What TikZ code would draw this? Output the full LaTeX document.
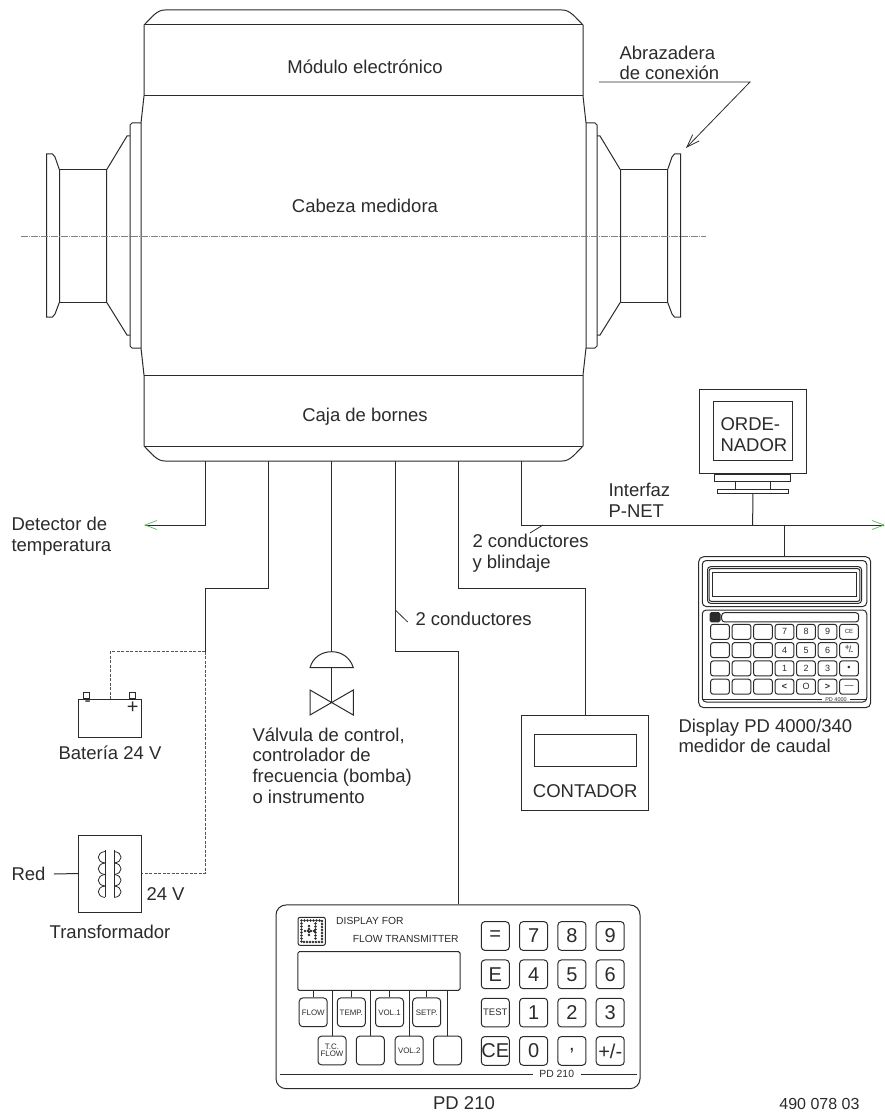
\documentclass[tikz,border=0pt]{standalone}
\usepackage{fontspec}
\setmainfont{Liberation Sans}
\usetikzlibrary{positioning,arrows.meta}
\definecolor{ink}{HTML}{2B2B2B}
\definecolor{barb}{HTML}{5CB85C}
\tikzstyle{lbl}=[inner sep=0pt,text=ink,align=left,font=\fontsize{18.5}{20.7}\selectfont]
\tikzstyle{wire}=[ink,line width=1pt]
\tikzstyle{aux}=[ink!80,line width=.8pt,dash pattern=on 3pt off 1.5pt]
\tikzstyle{endbarb}=[-{Straight Barb[color=barb,length=12pt,width=9pt,line width=.7pt]}]
\tikzstyle{box}=[draw=ink,line width=1pt,inner sep=0pt]
\tikzstyle{pkey}=[box,rounded corners=3.5pt,minimum width=28pt,minimum height=28.7pt,text=ink,font=\fontsize{20}{20}\selectfont]
\tikzstyle{fkey}=[pkey,font=\fontsize{7.9}{8}\selectfont,align=center]
\tikzstyle{ckey}=[box,rounded corners=2.5pt,minimum width=18.7pt,minimum height=15pt,text=ink,font=\fontsize{9}{9}\selectfont]
\tikzstyle{logodots}=[ink,line width=2.6pt,line cap=round,dash pattern=on 0pt off 3pt]

\begin{document}
\begin{tikzpicture}[x=1pt,y=-1pt,>=stealth,ink,line width=1pt]
  \useasboundingbox (0,0) rectangle (885,1115);

  % flowmeter body
  \draw (144,25) -- (144,96) -- (141,123) -- (141,348) -- (144,375) -- (144,446)
    .. controls (153,455) and (157,461) .. (165,461) -- (562,461)
    .. controls (570,461) and (574,455) .. (583,446)
    -- (583,375) -- (586,348) -- (586,123) -- (583,96) -- (583,25)
    .. controls (574,16) and (570,10) .. (562,10) -- (165,10)
    .. controls (157,10) and (153,16) .. (144,25) -- cycle;
  \draw (144,25) -- (583,25) (144,96) -- (583,96) (144,375) -- (583,375) (144,446) -- (583,446);

  \foreach \cx/\sx in {0/1,727/-1} {
    \begin{scope}[xshift=\cx pt,xscale=\sx]
      \draw (141,123) -- (132,123) -- (130,125) -- (130,346) -- (132,348) -- (141,348);
      \draw (130,136) -- (127,136) -- (106.5,170) -- (106.5,302) -- (127,335) -- (130,335);
      \draw (106.5,170) -- (59.5,170) (106.5,302) -- (59.5,302);
      \draw (59.5,170) -- (55,157) -- (52.5,154) -- (46.5,154) -- (46.5,317) -- (52.5,317) -- (55,314) -- (59.5,302) -- cycle;
    \end{scope}
  }
  \draw[gray,line width=.8pt,dash pattern=on 7pt off 1pt on 1pt off 1pt] (21,236) -- (706,236);

  \node[lbl] (modulo) at (365,67) {Módulo electrónico};
  \node[lbl] (cabeza) at (365,206) {Cabeza medidora};
  \node[lbl] (caja) at (365,417) {Caja de bornes};

  % clamp note
  \node[lbl,anchor=west] (clamp) at (619,63) {Abrazadera\\de conexión};
  \coordinate (clampa) at (599,82);
  \coordinate (clampb) at (750,82);
  \coordinate (clampc) at (686,148);
  \draw[-{Straight Barb[length=13pt,width=9pt]},line width=.8pt] (clampa) -- (clampb) -- (clampc);

  % wires leave the terminal box here
  \coordinate (w1) at (205,461);
  \coordinate (w2) at (268.5,461);
  \coordinate (w3) at (331.7,461);
  \coordinate (w4) at (395.3,461);
  \coordinate (w5) at (458.3,461);
  \coordinate (w6) at (521.7,461);

  % temperature detector
  \coordinate (det) at (144,525);
  \node[lbl,anchor=west] (dettext) at (11,536) {Detector de\\temperatura};
  \draw[wire,endbarb] (w1) |- (det);

  % battery and transformer
  \node[box,minimum width=63pt,minimum height=38pt] (bat) at (110,718) {};
  \node[box,minimum width=5.5pt,minimum height=6pt,above=0pt of bat.north west,xshift=8.7pt] (batm) {};
  \node[box,minimum width=5.5pt,minimum height=6pt,above=0pt of bat.north east,xshift=-9.7pt] (batp) {};
  \node[lbl,below right=2pt and 6pt of bat.north west] (minus) {-};
  \node[lbl,font=\fontsize{20}{20}\selectfont,below left=3pt and 3pt of bat.north east] (plus) {+};
  \node[lbl,below=8pt of bat] (battext) {Batería 24 V};

  \node[box,minimum width=63pt,minimum height=77pt] (trafo) at (110,873.5) {};
  \draw (105,850) -- (105,897) (114.3,850) -- (114.3,897);
  \foreach \y in {851.5,863,874.5,886} {
    \draw[line width=.8pt] (105,\y) .. controls (96,\y+1) and (96,\y+10.5) .. (105,\y+11.5);
    \draw[line width=.8pt] (114.3,\y) .. controls (123.3,\y+1) and (123.3,\y+10.5) .. (114.3,\y+11.5);
  }
  \node[lbl,anchor=west] (red) at (11,874) {Red};
  \node[lbl,anchor=west] (v24) at (146,894) {24 V};
  \node[lbl,below=12pt of trafo] (trafotext) {Transformador};
  \draw (red.east) ++(8,0) coordinate (redend) -- (trafo.west);

  \coordinate (w2a) at (205,588);
  \coordinate (w2b) at (205,651.7);
  \draw[wire] (w2) |- (w2a) -- (w2b);
  \draw[aux] (w2b) -| (bat.north);
  \draw[aux] (w2b) |- (trafo.east);

  % control valve
  \coordinate (dome) at (331.7,651.7);
  \coordinate (valve) at (331.7,702.7);
  \draw (310,667.7) .. controls (313,657) and (322,651.7) .. (dome)
    .. controls (341,651.7) and (350,657) .. (353.3,667.7) -- cycle;
  \draw (310,690) -- (353.3,715) -- (353.3,690) -- (310,715) -- cycle;
  \draw[wire] (w3) -- (dome) (331.7,667.7) -- (valve);
  \node[lbl,anchor=north west] (valvetext) at (252,727) {Válvula de control,\\controlador de\\frecuencia (bomba)\\o instrumento};

  % wire to PD 210
  \node[box,rounded corners=10pt,minimum width=364pt,minimum height=183.7pt] (pd) at (458,996.8) {};
  \coordinate (w4a) at (395.3,651.7);
  \draw[wire] (w4) -- (w4a) -| (pd.north);
  \coordinate (tick4a) at (395.3,610);
  \coordinate (tick4b) at (407.7,622);
  \draw[line width=.8pt] (tick4a) -- (tick4b);
  \node[lbl,anchor=west] (cond2) at (415,619) {2 conductores};

  % counter
  \node[box,minimum width=127pt,minimum height=95pt] (cont) at (585.2,762.5) {};
  \node[box,minimum width=101.7pt,minimum height=32pt,below=19pt of cont.north,anchor=north] (contdisp) {};
  \node[lbl,above=12pt of cont.south,anchor=south] (conttext) {CONTADOR};
  \coordinate (w5a) at (458.3,588);
  \draw[wire] (w5) -- (w5a) -| (cont.north);

  % P-NET bus
  \coordinate (bus) at (885,525);
  \draw[wire,endbarb] (w6) |- (bus);
  \coordinate (tick6a) at (530,533);
  \coordinate (tick6b) at (543,525);
  \draw[line width=.8pt] (tick6a) -- (tick6b);
  \node[lbl,anchor=west] (cond3) at (472,553.5) {2 conductores\\y blindaje};
  \node[lbl,anchor=west] (pnet) at (608,500) {Interfaz\\P-NET};

  % computer
  \node[box,minimum width=107pt,minimum height=83.6pt] (comp) at (752.8,431.5) {};
  \node[box,minimum width=79pt,minimum height=59pt] (screen) at (752.8,431.2) {};
  \node[lbl,anchor=west] (comptext) at (720,434.5) {ORDE-\\NADOR};
  \node[box,minimum width=76pt,minimum height=7.5pt,below=0pt of comp.south] (foot) {};
  \node[box,minimum width=71pt,minimum height=4pt] (stand) at (752.8,491.3) {};
  \draw (735,480.7) -- (735,489.3) (770.3,480.7) -- (770.3,489.3);
  \coordinate (buscomp) at (752.7,525);
  \draw[wire] (stand.south) -- (buscomp);

  % PD 4000 display
  \node[box,rounded corners=5pt,minimum width=172pt,minimum height=151pt] (calc) at (784.7,632.2) {};
  \coordinate (buscalc) at (784.7,525);
  \draw[wire] (buscalc) -- (calc.north);
  \node[box,rounded corners=4pt,minimum width=164.5pt,minimum height=46pt] (calcup) at (784.5,583.5) {};
  \node[box,rounded corners=3pt,minimum width=154pt,minimum height=36.6pt] (calcdisp1) at (784.5,585) {};
  \node[box,rounded corners=2pt,minimum width=150.7pt,minimum height=32.6pt] (calcdisp2) at (784.5,585) {};
  \node[box,minimum width=144pt,minimum height=24.4pt] (calcdisp3) at (784.5,584.5) {};
  \node[box,rounded corners=4pt,minimum width=164.5pt,minimum height=92pt] (calclow) at (784.5,656) {};
  \node[box,fill=ink,rounded corners=1.5pt,minimum width=10pt,minimum height=9.3pt] (calcled) at (715,617.3) {};
  \node[box,rounded corners=3pt,minimum width=137pt,minimum height=9.3pt] (calcbar) at (790.2,617.3) {};
  \foreach \r in {0,1,2,3} \foreach \c in {0,1,2}
    \node[ckey] (ck\r\c) at ({720+21.5*\c},{631.8+18.3*\r}) {};
  \foreach \r/\a/\b/\c/\d in {0/7/8/9/{\fontsize{6}{6}\selectfont CE},1/4/5/6/{\raisebox{2pt}{+}\kern-1pt/\kern-1pt\raisebox{-2pt}{-}},2/1/2/3/{\textbullet},3/{\bfseries<}/O/{\bfseries>}/{---}} {
    \node[ckey] (cn\r a) at ({720+21.5*3},{631.8+18.3*\r}) {\a};
    \node[ckey] (cn\r b) at ({720+21.5*4},{631.8+18.3*\r}) {\b};
    \node[ckey] (cn\r c) at ({720+21.5*5},{631.8+18.3*\r}) {\c};
    \node[ckey] (cn\r d) at ({720+21.5*6},{631.8+18.3*\r}) {\d};
  }
  \node[lbl,font=\fontsize{5.5}{6}\selectfont] (calcname) at (836,699.3) {PD 4000};
  \coordinate (calcl) at (702,699.3);
  \coordinate (calcr) at (866.7,699.3);
  \draw[line width=.6pt] (calcl) -- ([xshift=-3pt]calcname.west) ([xshift=3pt]calcname.east) -- (calcr);
  \node[lbl,anchor=west] (calctext) at (678,736) {Display PD 4000/340\\medidor de caudal};

  % PD 210 front
  \node[box,rounded corners=2pt,minimum width=27.3pt,minimum height=28pt] (logo) at (311.7,931.3) {};
  \draw[logodots] (301.5,920.5) -- (322,920.5) -- (322,942) -- (301.5,942) -- cycle;
  \draw[logodots] (315.5,923.5) -- (315.5,939) (305,931) -- (315.5,931) (309,926) -- (309,936);
  \node[lbl,font=\fontsize{10.3}{11}\selectfont,anchor=west] (pdl1) at (335.7,921) {DISPLAY FOR};
  \node[lbl,font=\fontsize{10.3}{11}\selectfont,anchor=west] (pdl2) at (352.3,939) {FLOW TRANSMITTER};
  \node[box,rounded corners=1.5pt,minimum width=162.3pt,minimum height=38.6pt] (pddisp) at (378.9,971) {};

  \node[fkey] (flow) at (313.2,1012.3) {FLOW};
  \node[fkey] (temp) at (351.3,1012.3) {TEMP.};
  \node[fkey] (vol1) at (389.5,1012.3) {VOL.1};
  \node[fkey] (setp) at (426.7,1012.3) {SETP.};
  \node[fkey] (tcflow) at (332,1050.5) {T.C.\\[-1pt]FLOW};
  \node[fkey] (blank1) at (370.3,1050.5) {};
  \node[fkey] (vol2) at (409.2,1050.5) {VOL.2};
  \node[fkey] (blank2) at (447.5,1050.5) {};
  \foreach \k in {flow,temp,vol1,setp,tcflow,blank1,vol2,blank2}
    \draw[line width=.8pt] (\k.north) -- (\k.north |- pddisp.south);

  \begin{scope}[on grid,node distance=38.3pt]
    \node[pkey] (keq) at (495.3,936) {=};
    \node[pkey,right=of keq] (k7) {7};
    \node[pkey,right=of k7] (k8) {8};
    \node[pkey,right=of k8] (k9) {9};
    \node[pkey,below=of keq] (ke) {E};
    \node[pkey,right=of ke] (k4) {4};
    \node[pkey,right=of k4] (k5) {5};
    \node[pkey,right=of k5] (k6) {6};
    \node[pkey,below=of ke,font=\fontsize{9.5}{10}\selectfont] (ktest) {TEST};
    \node[pkey,right=of ktest] (k1) {1};
    \node[pkey,right=of k1] (k2) {2};
    \node[pkey,right=of k2] (k3) {3};
    \node[pkey,below=of ktest] (kce) {CE};
    \node[pkey,right=of kce] (k0) {0};
    \node[pkey,right=of k0] (kcomma) {,};
    \node[pkey,right=of kcomma] (kpm) {+/-};
  \end{scope}

  \node[lbl,font=\fontsize{10.4}{11}\selectfont] (pdname) at (556.7,1074) {PD 210};
  \coordinate (pdl) at (280,1074);
  \coordinate (pdr) at (636.7,1074);
  \draw[line width=.8pt] (pdl) -- ([xshift=-6pt]pdname.west) ([xshift=6pt]pdname.east) -- (pdr);
  \node[lbl] (pdcap) at (464,1103) {PD 210};
  \node[lbl,font=\fontsize{16}{16}\selectfont,anchor=east] (docno) at (860,1104) {490 078 03};
\end{tikzpicture}
\end{document}
